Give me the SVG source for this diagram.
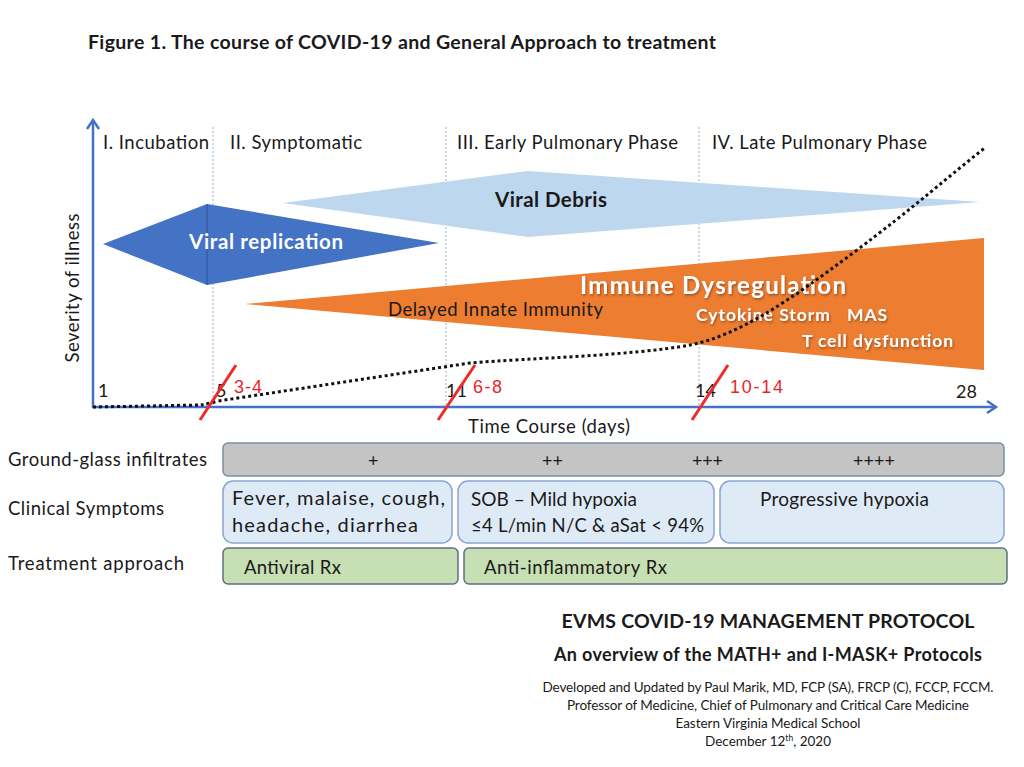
<svg xmlns="http://www.w3.org/2000/svg" width="1024" height="767" viewBox="0 0 1024 767">
<style>
text{font-family:Lato,"Open Sans","Liberation Sans",sans-serif;fill:#1a1a1a}
.ph{font-size:18.5px}
.b{font-weight:bold}
.w{fill:#ffffff}
.red{fill:#e8262a;font-family:"Liberation Sans",Arial,sans-serif;font-size:18px}
.num{font-size:18px}
.row{font-size:18.5px}
.ax{stroke:#4472c4;stroke-width:2.5;fill:none}
.dash{stroke:#9fb0d2;stroke-width:1;stroke-dasharray:2 2;fill:none}
.slash{stroke:#ee2a2a;stroke-width:3;stroke-linecap:butt}
.cbox{fill:#deebf7;stroke:#8aa4d0;stroke-width:1.5}
.gbox{fill:#c6e0b4;stroke:#5f6f7f;stroke-width:1.5}
.foot{font-size:13.5px}
</style>
<defs>
<filter id="sh" x="-10%" y="-30%" width="120%" height="160%">
<feDropShadow dx="1" dy="1.5" stdDeviation="1" flood-color="#7a3a10" flood-opacity="0.7"/>
</filter>
</defs>

<g id="title">
<text x="88" y="49" class="b" font-size="19.5" textLength="628">Figure 1.  The course of COVID-19 and General Approach to treatment</text>
</g>

<g id="phases">
<line class="dash" x1="213" y1="127" x2="213" y2="406"/>
<line class="dash" x1="446" y1="127" x2="446" y2="406"/>
<line class="dash" x1="699" y1="127" x2="699" y2="406"/>
<text class="ph" x="103" y="149" textLength="106">I. Incubation</text>
<text class="ph" x="230" y="149" textLength="132">II. Symptomatic</text>
<text class="ph" x="457" y="149" textLength="221">III. Early Pulmonary Phase</text>
<text class="ph" x="712" y="149" textLength="215">IV. Late Pulmonary Phase</text>
</g>

<g id="viral-debris">
<polygon points="283,203 528,171 980,202 528,237" fill="#bdd7ee"/>
<text x="495" y="207" class="b" font-size="20.5" textLength="112">Viral Debris</text>
</g>

<g id="viral-replication">
<polygon points="103,244 207,204 439,243 207,285" fill="#4472c4"/>
<line x1="207" y1="204" x2="207" y2="285" stroke="#34589e" stroke-width="1.2"/>
<text x="189" y="249" class="b w" font-size="20.5" textLength="154">Viral replication</text>
</g>

<g id="immune-dysregulation">
<polygon points="245,304 984,238 984,370" fill="#ed7d31"/>
<text x="388" y="316" font-size="18.5" textLength="215">Delayed Innate Immunity</text>
<text x="580" y="294" class="b w" font-size="24" textLength="266" filter="url(#sh)">Immune Dysregulation</text>
<text x="696" y="321" class="b w" font-size="17.5" textLength="134" filter="url(#sh)">Cytokine Storm</text>
<text x="847" y="321" class="b w" font-size="17.5" textLength="40" filter="url(#sh)">MAS</text>
<text x="802" y="347" class="b w" font-size="17.5" textLength="151" filter="url(#sh)">T cell dysfunction</text>
</g>

<g id="axes">
<line class="ax" x1="93" y1="408" x2="93" y2="121"/>
<polyline class="ax" points="87,129 93,120 99,129"/>
<line class="ax" x1="92" y1="407" x2="995" y2="407"/>
<polyline class="ax" points="987,401 996,407 987,413"/>
<text transform="translate(79,288) rotate(-90)" text-anchor="middle" font-size="18.5" textLength="149">Severity of illness</text>
<text x="468" y="433" font-size="18.5" textLength="162">Time Course (days)</text>
<text class="num" x="98" y="397">1</text>
<text class="num" x="216" y="397">5</text>
<text class="num" x="446" y="397">11</text>
<text class="num" x="695" y="397">14</text>
<text class="num" x="956" y="398" textLength="21">28</text>
</g>

<g id="connectors">
<path d="M93,407 L200,405 Q208,404 218,401 L470,363 C530,358 630,356 690,345 C740,335 790,300 853,253 S950,175 986,147" fill="none" stroke="#111" stroke-width="3" stroke-dasharray="3 3"/>
</g>

<g id="day-markers">
<line class="slash" x1="200" y1="420" x2="236" y2="365"/>
<line class="slash" x1="438" y1="420" x2="475" y2="365"/>
<line class="slash" x1="692" y1="420" x2="728" y2="365"/>
<text class="red" x="234" y="393" textLength="28">3-4</text>
<text class="red" x="473" y="393" textLength="29">6-8</text>
<text class="red" x="730" y="393" textLength="53">10-14</text>
</g>

<g id="row-labels">
<text class="row" x="8" y="466" textLength="199">Ground-glass infiltrates</text>
<text class="row" x="8" y="515" textLength="156">Clinical Symptoms</text>
<text class="row" x="8" y="570" textLength="176">Treatment approach</text>
</g>

<g id="ground-glass">
<rect x="223" y="443" width="781" height="33" rx="5" fill="#c4c4c4" stroke="#7c8ca6" stroke-width="1.5"/>
<text x="368" y="467" font-size="18" textLength="10">+</text>
<text x="542" y="467" font-size="18" textLength="21">++</text>
<text x="692" y="467" font-size="18" textLength="31">+++</text>
<text x="853" y="467" font-size="18" textLength="42">++++</text>
</g>

<g id="symptoms-early">
<rect class="cbox" x="223" y="481" width="229" height="62" rx="10"/>
<text x="232" y="505" font-size="20" textLength="213">Fever, malaise, cough,</text>
<text x="232" y="532" font-size="20" textLength="186">headache, diarrhea</text>
</g>
<g id="symptoms-mid">
<rect class="cbox" x="458" y="481" width="256" height="62" rx="10"/>
<text x="471" y="506" font-size="19" textLength="166">SOB – Mild hypoxia</text>
<text x="471" y="532" font-size="18.5" textLength="233">≤4 L/min N/C &amp; aSat &lt; 94%</text>
</g>
<g id="symptoms-late">
<rect class="cbox" x="720" y="481" width="284" height="62" rx="10"/>
<text x="760" y="506" font-size="19" textLength="169">Progressive hypoxia</text>
</g>

<g id="treatment-antiviral">
<rect class="gbox" x="223" y="548" width="235" height="36" rx="5"/>
<text x="244" y="574" font-size="18.5" textLength="97">Antiviral Rx</text>
</g>
<g id="treatment-antiinflammatory">
<rect class="gbox" x="464" y="548" width="543" height="36" rx="5"/>
<text x="484" y="574" font-size="18.5" textLength="183">Anti-inflammatory Rx</text>
</g>

<g id="footer">
<text x="768" y="628" text-anchor="middle" class="b" font-size="19.5" textLength="413">EVMS COVID-19 MANAGEMENT PROTOCOL</text>
<text x="768" y="661" text-anchor="middle" class="b" font-size="18" textLength="428">An overview of the MATH+ and I-MASK+ Protocols</text>
<text x="768" y="692" text-anchor="middle" class="foot" textLength="451">Developed and Updated by Paul Marik, MD, FCP (SA), FRCP (C), FCCP, FCCM.</text>
<text x="768" y="710" text-anchor="middle" class="foot" textLength="402">Professor of Medicine, Chief of Pulmonary and Critical Care Medicine</text>
<text x="768" y="728" text-anchor="middle" class="foot" textLength="185">Eastern Virginia Medical School</text>
<text x="768" y="746" text-anchor="middle" class="foot">December 12<tspan font-size="8.5" dy="-5">th</tspan><tspan dy="5">, 2020</tspan></text>
</g>
</svg>
